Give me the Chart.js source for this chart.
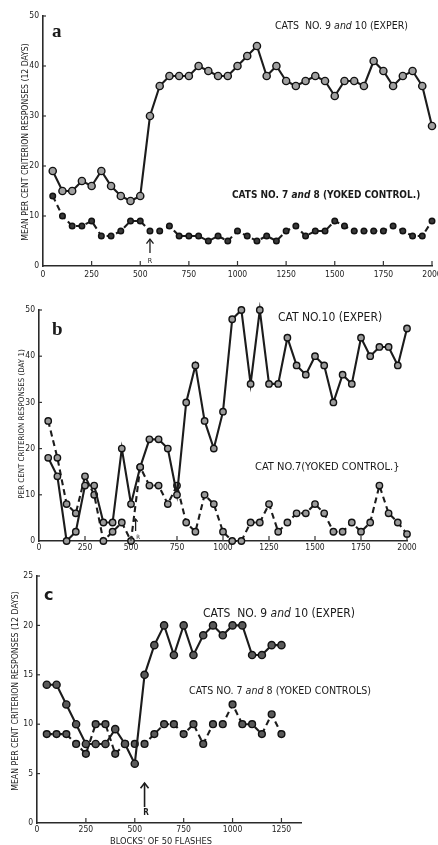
<!DOCTYPE html>
<html>
<head>
<meta charset="utf-8">
<script src="https://cdn.jsdelivr.net/npm/chart.js@4.4.1/dist/chart.umd.min.js"></script>
<style>
  html, body { margin: 0; padding: 0; background: #ffffff; }
  #wrap { position: relative; width: 438px; height: 845px; overflow: hidden; background: #fff; }
  canvas { position: absolute; left: 0; }
  .t { position: absolute; white-space: nowrap; color: #1a1a1a; font-family: "DejaVu Sans Condensed", "DejaVu Sans", sans-serif; line-height: 1; }
  .rot { transform: translate(-50%, -50%) rotate(-90deg); }
  .cen { transform: translate(-50%, -50%); }
</style>
</head>
<body>
<div id="wrap">
  <canvas id="ca" width="438" height="290" style="top:0px"></canvas>
  <canvas id="cb" width="438" height="270" style="top:290px"></canvas>
  <canvas id="cc" width="438" height="285" style="top:560px"></canvas>

  <!-- panel a texts -->
  <div class="t" style="left:52px; top:20px; font:bold 19px 'Liberation Serif', serif;">a</div>
  <div class="t" style="left:275px; top:20px; font-size:10.5px;">CATS&nbsp; NO. 9 <i>and</i> 10 (EXPER)</div>
  <div class="t" style="left:232px; top:190px; font-size:10px; font-weight:bold;">CATS NO. 7 <i>and</i> 8 (YOKED CONTROL.)</div>
  <div class="t rot" style="left:25px; top:142px; font-size:8.6px;">MEAN PER CENT CRITERION RESPONSES (12 DAYS)</div>
  <div class="t cen" style="left:150px; top:261px; font-size:7px;">R</div>

  <!-- panel b texts -->
  <div class="t" style="left:52px; top:318px; font:bold 19px 'Liberation Serif', serif;">b</div>
  <div class="t" style="left:278px; top:311px; font-size:12px;">CAT NO.10 (EXPER)</div>
  <div class="t" style="left:255px; top:461px; font-size:11px;">CAT NO.7(YOKED CONTROL.}</div>
  <div class="t rot" style="left:22px; top:424px; font-size:7.9px;">PER CENT CRITERION RESPONSES (DAY 1)</div>
  <div class="t cen" style="left:138px; top:537px; font-size:6px;">R</div>

  <!-- panel c texts -->
  <div class="t" style="left:44px; top:585px; font:bold 16px 'DejaVu Sans', sans-serif;">c</div>
  <div class="t" style="left:203px; top:607px; font-size:12px;">CATS&nbsp; NO. 9 <i>and</i> 10 (EXPER)</div>
  <div class="t" style="left:189px; top:685px; font-size:10.6px;">CATS NO. 7 <i>and</i> 8 (YOKED CONTROLS)</div>
  <div class="t rot" style="left:15px; top:691px; font-size:8.7px;">MEAN PER CENT CRITERION RESPONSES (12 DAYS)</div>
  <div class="t cen" style="left:146px; top:813px; font-size:8px; font-weight:bold;">R</div>
  <div class="t cen" style="left:161px; top:841px; font-size:9.2px;">BLOCKS' OF 50 FLASHES</div>
</div>

<script>
// ---------- DATA ----------
const blocks2000 = [50,100,150,200,250,300,350,400,450,500,550,600,650,700,750,800,850,900,950,1000,
                    1050,1100,1150,1200,1250,1300,1350,1400,1450,1500,1550,1600,1650,1700,1750,1800,1850,1900,1950,2000];
const blocks1250 = [50,100,150,200,250,300,350,400,450,500,550,600,650,700,750,800,850,900,950,1000,
                    1050,1100,1150,1200,1250];

// Panel a: mean % criterion responses (12 days)
const aExper   = [19,15,15,17,16,19,16,14,13,14,30,36,38,38,38,40,39,38,38,40,
                  42,44,38,40,37,36,37,38,37,34,37,37,36,41,39,36,38,39,36,28];
const aControl = [14,10,8,8,9,6,6,7,9,9,7,7,8,6,6,6,5,6,5,7,
                  6,5,6,5,7,8,6,7,7,9,8,7,7,7,7,8,7,6,6,9];

// Panel b: % criterion responses (day 1)
const bExper   = [18,14,0,2,12,12,4,4,20,8,16,22,22,20,10,30,38,26,20,28,
                  48,50,34,50,34,34,44,38,36,40,38,30,36,34,44,40,42,42,38,46];
const bControl = [26,18,8,6,14,10,0,2,4,0,16,12,12,8,12,4,2,10,8,2,
                  0,0,4,4,8,2,4,6,6,8,6,2,2,4,2,4,12,6,4,1.5];

// Panel c: mean % criterion responses (12 days)
const cExper   = [14,14,12,10,8,8,8,9.5,8,6,15,18,20,17,20,17,19,20,19,20,20,17,17,18,18];
const cControl = [9,9,9,8,7,10,10,7,8,8,8,9,10,10,9,10,8,10,10,12,10,10,9,11,9];

// tick labels
const xTicksA = [0,250,500,750,1000,1250,1500,1750,2000];
const yTicksA = [0,10,20,30,40,50];
const xTicksC = [0,250,500,750,1000,1250];
const yTicksC = [0,5,10,15,20,25];

// ---------- HELPERS ----------
const pts = (xs, ys) => xs.map((x, i) => ({x: x, y: ys[i]}));
const INK = '#1c1c1c';
const TICKFONT = {family: "'DejaVu Sans Condensed', 'DejaVu Sans', sans-serif", size: 8.5};

const inward = {
  id: 'inward',
  afterDraw(chart, args, opts) {
    const {ctx} = chart;
    const x = chart.scales.x, y = chart.scales.y;
    ctx.save();
    ctx.strokeStyle = '#333';
    ctx.lineWidth = 1.2;
    x.ticks.forEach(t => {
      if (t.value === 0) return;
      const px = x.getPixelForValue(t.value);
      ctx.beginPath(); ctx.moveTo(px, x.top); ctx.lineTo(px, x.top - 5); ctx.stroke();
    });
    y.ticks.forEach(t => {
      if (t.value === 0) return;
      const py = y.getPixelForValue(t.value);
      ctx.beginPath(); ctx.moveTo(y.right, py); ctx.lineTo(y.right + 3, py); ctx.stroke();
    });
    if (opts && opts.arrow) {
      const a = opts.arrow;
      const px = x.getPixelForValue(a.at);
      const yb = x.top - a.from, yt = x.top - a.to;
      ctx.strokeStyle = INK;
      ctx.lineWidth = a.w || 1.3;
      ctx.beginPath(); ctx.moveTo(px, yb); ctx.lineTo(px, yt); ctx.stroke();
      ctx.beginPath(); ctx.moveTo(px - a.head, yt + a.head * 1.3); ctx.lineTo(px, yt); ctx.lineTo(px + a.head, yt + a.head * 1.3); ctx.stroke();
    }
    ctx.restore();
  }
};

function makeChart(id, cfg) {
  const H = document.getElementById(id).height;
  return new Chart(document.getElementById(id), {
    type: 'line',
    data: {
      datasets: [
        Object.assign({
          data: pts(cfg.xs, cfg.exper),
          borderColor: INK, borderWidth: 2.1, tension: 0, clip: false,
          pointBorderColor: '#111', pointBorderWidth: 1.4
        }, cfg.experStyle),
        Object.assign({
          data: pts(cfg.xs, cfg.control),
          borderColor: INK, borderWidth: 2.1, borderDash: [6, 4], tension: 0, clip: false,
          pointBorderColor: '#111', pointBorderWidth: 1.4
        }, cfg.controlStyle)
      ]
    },
    options: {
      responsive: false,
      animation: false,
      events: [],
      layout: {padding: {top: cfg.top, right: 438 - cfg.right, left: 0, bottom: 0}},
      plugins: {legend: {display: false}, tooltip: {enabled: false}, inward: {arrow: cfg.arrow}},
      scales: {
        x: {
          type: 'linear', min: 0, max: cfg.xmax,
          grid: {display: false, drawTicks: false},
          border: {display: true, color: '#2a2a2a', width: 1.6},
          afterBuildTicks: s => { s.ticks = cfg.xTicks.map(v => ({value: v})); },
          ticks: {font: TICKFONT, color: '#222', padding: cfg.xPad, maxRotation: 0, autoSkip: false,
                  callback: v => String(v)},
          afterFit: s => { s.height = H - cfg.bottom; s.paddingLeft = 0; s.paddingRight = 0; }
        },
        y: {
          type: 'linear', min: 0, max: cfg.ymax,
          grid: {display: false, drawTicks: false},
          border: {display: true, color: '#2a2a2a', width: 1.6},
          afterBuildTicks: s => { s.ticks = cfg.yTicks.map(v => ({value: v})); },
          ticks: {font: TICKFONT, color: '#222', padding: 4, autoSkip: false},
          afterFit: s => { s.width = cfg.left; s.paddingTop = 0; s.paddingBottom = 0; }
        }
      }
    },
    plugins: [inward]
  });
}

// Panel a
makeChart('ca', {
  xs: blocks2000, exper: aExper, control: aControl,
  left: 43, right: 432, top: 16, bottom: 266, xmax: 2000, ymax: 50, xPad: 4,
  xTicks: xTicksA, yTicks: yTicksA,
  experStyle: {pointRadius: 3.6, pointBackgroundColor: '#a0a0a0'},
  controlStyle: {pointRadius: 2.8, pointBackgroundColor: '#3a3a3a'},
  arrow: {at: 550, from: 13, to: 27, head: 3.5}
});

// Panel b (canvas top = 290)
makeChart('cb', {
  xs: blocks2000, exper: bExper, control: bControl,
  left: 39, right: 407, top: 310 - 290, bottom: 541 - 290, xmax: 2000, ymax: 50, xPad: 2,
  xTicks: xTicksA, yTicks: yTicksA,
  experStyle: {pointRadius: 3.2, pointBackgroundColor: '#9a9a9a'},
  controlStyle: {pointRadius: 3.2, pointBackgroundColor: '#9a9a9a'},
  arrow: {at: 525, from: 10, to: 22, head: 2}
});

// Panel c (canvas top = 560)
makeChart('cc', {
  xs: blocks1250, exper: cExper, control: cControl,
  left: 37, right: 301, top: 576 - 560, bottom: 823 - 560, xmax: 1350, ymax: 25, xPad: 2,
  xTicks: xTicksC, yTicks: yTicksC,
  experStyle: {pointRadius: 3.6, pointBackgroundColor: '#5a5a5a'},
  controlStyle: {pointRadius: 3.4, pointBackgroundColor: '#5a5a5a'},
  arrow: {at: 550, from: 16, to: 40, head: 4, w: 1.6}
});
</script>
</body>
</html>
